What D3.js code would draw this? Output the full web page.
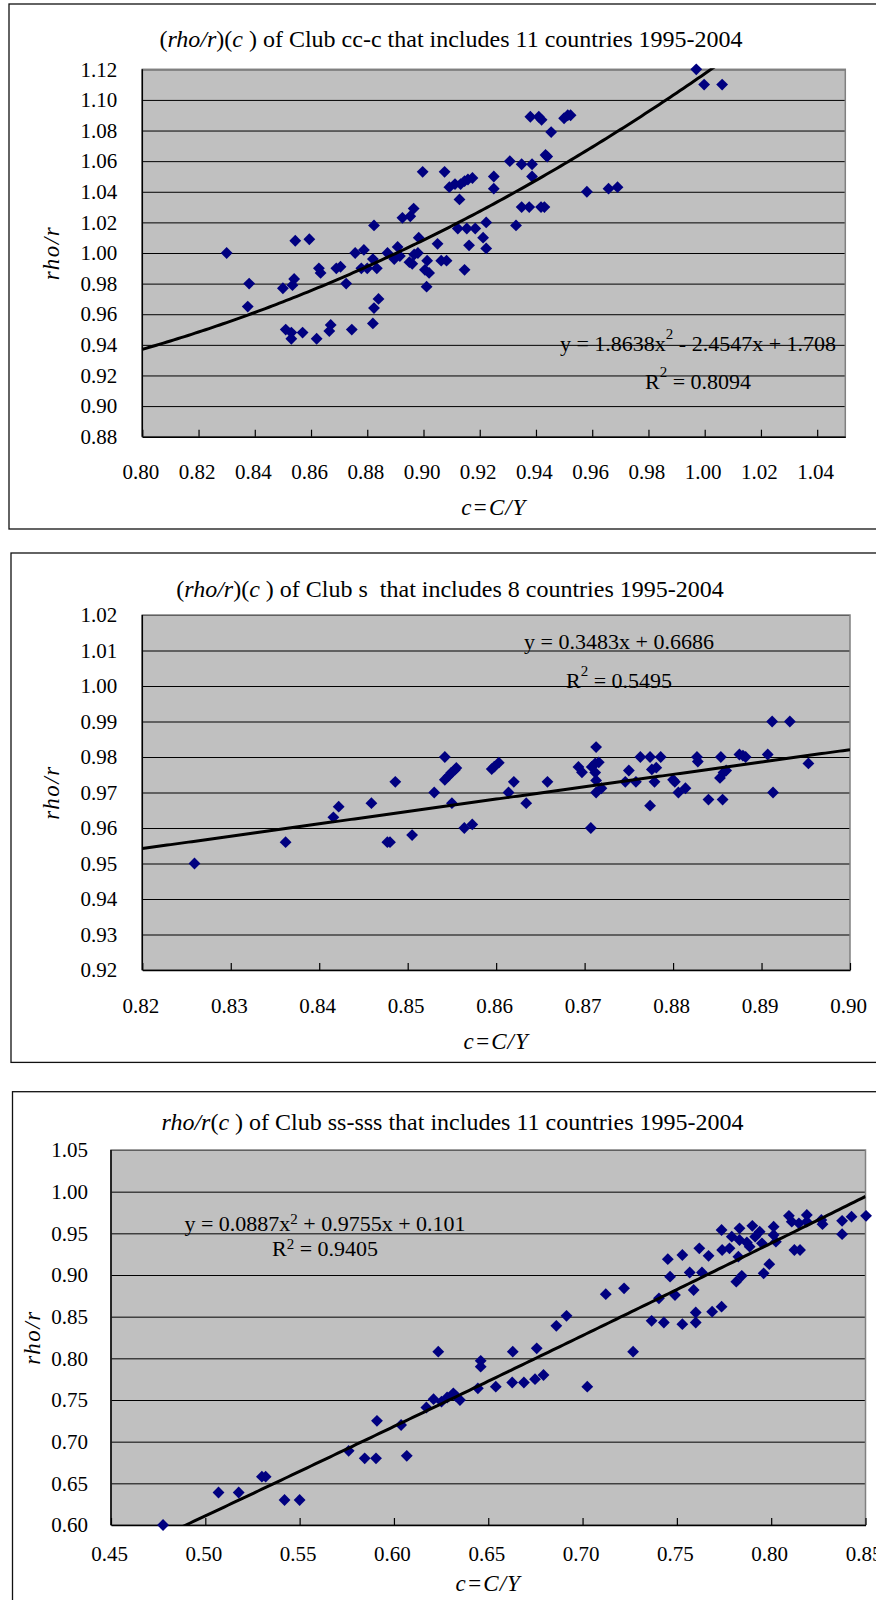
<!DOCTYPE html>
<html>
<head>
<meta charset="utf-8">
<script src="https://cdn.jsdelivr.net/npm/d3@7"></script>
<style>
body { margin: 0; background: #fff; }
svg, svg text { font-family: 'Liberation Serif', 'Times New Roman', serif; }
svg { display: block; }
text { white-space: pre; }
</style>
</head>
<body>
<svg width="876" height="1600"></svg>
<script>
// Club cc-c, 11 countries 1995-2004
var ccX = [
    0.830, 0.838, 0.8375, 0.850, 0.8544, 0.8594, 0.854, 0.8534, 0.851, 0.853,
    0.853, 0.857, 0.862, 0.8628, 0.8634, 0.867, 0.8665, 0.869, 0.8705, 0.8725,
    0.8745, 0.8757, 0.8788, 0.8779, 0.880, 0.8824, 0.882, 0.8834, 0.8824, 0.884,
    0.882, 0.8872, 0.8896, 0.8908, 0.8916, 0.8925, 0.8953, 0.8965, 0.895, 0.896,
    0.8967, 0.898, 0.8983, 0.8997, 0.9005, 0.9013, 0.902, 0.9011, 0.905, 0.9063,
    0.9075, 0.9082, 0.9092, 0.9112, 0.9128, 0.9132, 0.9146, 0.9158, 0.9174, 0.9122,
    0.9154, 0.9184, 0.9162, 0.9146, 0.9212, 0.9223, 0.9223, 0.925, 0.925, 0.9307,
    0.9329, 0.9349, 0.9386, 0.9386, 0.9349, 0.9376, 0.938, 0.941, 0.942, 0.9418,
    0.943, 0.9434, 0.944, 0.9454, 0.950, 0.9513, 0.9523, 0.9581, 0.9658, 0.969,
    0.997, 0.9998, 1.0062
]
var ccY = [
    1.000, 0.980, 0.965, 0.977, 1.008, 1.009, 0.983, 0.979, 0.950, 0.944,
    0.948, 0.948, 0.944, 0.990, 0.987, 0.953, 0.949, 0.990, 0.991, 0.980,
    0.950, 1.000, 1.002, 0.990, 0.990, 1.018, 0.996, 0.990, 0.964, 0.970,
    0.954, 1.000, 0.996, 1.004, 0.998, 1.023, 1.024, 1.029, 0.994, 0.993,
    0.999, 1.000, 1.010, 1.053, 0.989, 0.995, 0.987, 0.978, 1.006, 0.995,
    1.053, 0.995, 1.043, 1.045, 1.035, 1.045, 1.047, 1.048, 1.049, 1.016,
    1.016, 1.016, 1.005, 0.989, 1.010, 1.020, 1.003, 1.050, 1.042, 1.060,
    1.018, 1.058, 1.058, 1.050, 1.030, 1.030, 1.089, 1.089, 1.087, 1.030,
    1.030, 1.064, 1.063, 1.079, 1.088, 1.090, 1.090, 1.040, 1.042, 1.043,
    1.120, 1.110, 1.110
]
var ccTrend = [1.8638, -2.4547, 1.708]
var ccXTicks = [0.80, 0.82, 0.84, 0.86, 0.88, 0.90, 0.92, 0.94, 0.96, 0.98, 1.00, 1.02, 1.04]
var ccYTicks = [0.88, 0.90, 0.92, 0.94, 0.96, 0.98, 1.00, 1.02, 1.04, 1.06, 1.08, 1.10, 1.12]

// Club s, 8 countries 1995-2004
var sX = [
    0.8259, 0.8362, 0.8416, 0.8422, 0.8459, 0.8477, 0.848, 0.8486, 0.8505, 0.853,
    0.8542, 0.8542, 0.8546, 0.8549, 0.8553, 0.8555, 0.855, 0.8564, 0.8573, 0.8595,
    0.8598, 0.8603, 0.8614, 0.862, 0.8634, 0.8658, 0.8693, 0.8697, 0.8708, 0.8712,
    0.8713, 0.8716, 0.8712, 0.8713, 0.8713, 0.8719, 0.8707, 0.8746, 0.875, 0.8758,
    0.8763, 0.8774, 0.8776, 0.8781, 0.8779, 0.8774, 0.8786, 0.880, 0.8802, 0.8806,
    0.8814, 0.8827, 0.8828, 0.884, 0.8854, 0.8853, 0.8857, 0.886, 0.8856, 0.8875,
    0.8879, 0.8882, 0.8907, 0.8912, 0.8932, 0.8913, 0.8953
]
var sY = [
    0.950, 0.956, 0.963, 0.966, 0.967, 0.956, 0.956, 0.973, 0.958, 0.970,
    0.980, 0.9736, 0.9746, 0.9755, 0.9763, 0.9769, 0.967, 0.960, 0.961, 0.9766,
    0.9773, 0.9784, 0.970, 0.973, 0.967, 0.973, 0.9772, 0.9757, 0.9772, 0.9782,
    0.9828, 0.9785, 0.9756, 0.9734, 0.970, 0.9712, 0.960, 0.973, 0.9762, 0.973,
    0.980, 0.980, 0.9765, 0.977, 0.973, 0.9663, 0.980, 0.9736, 0.973, 0.970,
    0.9712, 0.980, 0.9787, 0.968, 0.980, 0.9741, 0.9756, 0.9762, 0.968, 0.9807,
    0.9804, 0.980, 0.9807, 0.990, 0.990, 0.970, 0.9782
]
var sTrend = [0, 0.3483, 0.6686]
var sXTicks = [0.82, 0.83, 0.84, 0.85, 0.86, 0.87, 0.88, 0.89, 0.90]
var sYTicks = [0.92, 0.93, 0.94, 0.95, 0.96, 0.97, 0.98, 0.99, 1.00, 1.01, 1.02]

// Club ss-sss, 11 countries 1995-2004
var ssX = [
    0.4776, 0.507, 0.5177, 0.530, 0.532, 0.542, 0.550, 0.576, 0.5845, 0.5905,
    0.591, 0.6038, 0.6068, 0.6172, 0.621, 0.6235, 0.6252, 0.6282, 0.6315, 0.6327,
    0.635, 0.6445, 0.646, 0.646, 0.654, 0.663, 0.6627, 0.6689, 0.6748, 0.6757,
    0.6793, 0.6861, 0.6915, 0.7025, 0.7123, 0.722, 0.7268, 0.7366, 0.7405, 0.7431,
    0.7452, 0.7464, 0.749, 0.7529, 0.7529, 0.7568, 0.7589, 0.760, 0.760, 0.7619,
    0.7633, 0.7668, 0.7687, 0.7737, 0.7737, 0.774, 0.7779, 0.7791, 0.7815, 0.7826,
    0.7832, 0.7844, 0.7832, 0.7871, 0.7886, 0.790, 0.7915, 0.7939, 0.7951, 0.796,
    0.799, 0.8013, 0.8013, 0.8025, 0.8094, 0.8109, 0.8123, 0.8153, 0.8147, 0.8189,
    0.8189, 0.8266, 0.8272, 0.8376, 0.8376, 0.8426, 0.8503
]
var ssY = [
    0.600, 0.639, 0.639, 0.658, 0.658, 0.630, 0.630, 0.689, 0.680, 0.680,
    0.725, 0.720, 0.683, 0.741, 0.751, 0.808, 0.748, 0.753, 0.758, 0.755,
    0.750, 0.764, 0.797, 0.790, 0.766, 0.808, 0.771, 0.771, 0.775, 0.812,
    0.780, 0.839, 0.851, 0.766, 0.877, 0.884, 0.808, 0.845, 0.872, 0.843,
    0.919, 0.898, 0.876, 0.924, 0.841, 0.903, 0.882, 0.855, 0.843, 0.932,
    0.903, 0.923, 0.856, 0.954, 0.862, 0.930, 0.932, 0.946, 0.892, 0.922,
    0.942, 0.899, 0.956, 0.939, 0.934, 0.959, 0.946, 0.952, 0.938, 0.902,
    0.913, 0.958, 0.948, 0.940, 0.971, 0.964, 0.930, 0.930, 0.962, 0.972,
    0.964, 0.966, 0.961, 0.965, 0.949, 0.970, 0.971
]
var ssTrend = [0.0887, 0.9755, 0.101]
var ssXTicks = [0.45, 0.50, 0.55, 0.60, 0.65, 0.70, 0.75, 0.80, 0.85]
var ssYTicks = [0.60, 0.65, 0.70, 0.75, 0.80, 0.85, 0.90, 0.95, 1.00, 1.05]

var svg = d3.select('svg')
var fmt = d3.format('.2f')
var serif = "'Liberation Serif', 'Times New Roman', serif"

function addRuns (sel, runs) {
    // runs: [text, style, size, shift] with style '' | 'i' | 'sup' | 'back'
    runs.forEach(function(r){
        var t = sel.append('tspan').text(r[0])
        if (r[1] === 'i') t.attr('font-style', 'italic')
        if (r[1] === 'sup') t.attr('font-size', r[2]).attr('dy', -r[3])
        if (r[1] === 'back') t.attr('dy', r[3])
    })
}

function drawPanel (p) {
    var g = svg.append('g')
    var pl = p.plot

    g.append('rect')
        .attr('x', p.frame[0])
        .attr('y', p.frame[1])
        .attr('width', p.frame[2])
        .attr('height', p.frame[3])
        .attr('fill', 'none')
        .attr('stroke', '#111')
        .attr('stroke-width', 1.3)

    var x = d3.scaleLinear().domain(p.xDomain).range([pl.l, pl.r])
    var y = d3.scaleLinear().domain(p.yDomain).range([pl.b, pl.t])

    g.append('rect')
        .attr('x', pl.l)
        .attr('y', pl.t)
        .attr('width', pl.r - pl.l)
        .attr('height', pl.b - pl.t)
        .attr('fill', '#c0c0c0')

    // gridlines + y labels
    var ya = g.append('g')
        .attr('transform', 'translate(' + pl.l + ',0)')
        .call(d3.axisLeft(y)
            .tickValues(p.yTicks)
            .tickSizeInner(-(pl.r - pl.l))
            .tickSizeOuter(0)
            .tickPadding(p.yPad)
            .tickFormat(fmt))
    ya.attr('font-family', serif).attr('font-size', 21)
    ya.select('.domain').remove()
    ya.selectAll('line').attr('stroke', '#000').attr('stroke-width', 1)
    ya.selectAll('text')
        .attr('fill', '#000')
        .style('font-family', serif)
        .style('font-size', '21px')

    g.append('rect')
        .attr('x', pl.l)
        .attr('y', pl.t)
        .attr('width', pl.r - pl.l)
        .attr('height', pl.b - pl.t)
        .attr('fill', 'none')
        .attr('stroke', '#808080')
        .attr('stroke-width', 1.5)

    g.append('line')
        .attr('x1', pl.l).attr('x2', pl.l)
        .attr('y1', pl.t).attr('y2', pl.b)
        .attr('stroke', '#000')
        .attr('stroke-width', 1.5)

    var xa = g.append('g')
        .attr('transform', 'translate(0,' + pl.b + ')')
        .call(d3.axisBottom(x)
            .tickValues(p.xTicks)
            .tickSizeInner(-7)
            .tickSizeOuter(0)
            .tickPadding(p.xPad)
            .tickFormat(fmt))
    xa.attr('font-family', serif).attr('font-size', 21)
    xa.select('.domain').attr('stroke', '#000').attr('stroke-width', 1.5)
    xa.selectAll('line').attr('stroke', '#000').attr('stroke-width', 1.2)
    xa.selectAll('text')
        .attr('fill', '#000')
        .attr('dx', -2)
        .style('font-family', serif)
        .style('font-size', '21px')

    // points
    var pts = p.xs.map(function(d, i){ return {x: d, y: p.ys[i]} })
    g.selectAll('path.pt')
        .data(pts)
        .enter()
        .append('path')
        .attr('class', 'pt')
        .attr('d', d3.symbol().type(d3.symbolSquare).size(70))
        .attr('transform', function(d, i){
            return 'translate(' + x(d.x) + ',' + y(d.y) + ') rotate(45)'
        })
        .attr('fill', '#000080')

    // trendline
    var clipId = 'clip' + p.id
    g.append('clipPath')
        .attr('id', clipId)
        .append('rect')
        .attr('x', pl.l)
        .attr('y', pl.t - 1)
        .attr('width', pl.r - pl.l)
        .attr('height', pl.b - pl.t + 1)
    var c = p.trend
    var xs = d3.range(p.xDomain[0], p.xDomain[1] + 1e-9, (p.xDomain[1] - p.xDomain[0]) / 200)
    g.append('path')
        .datum(xs)
        .attr('clip-path', 'url(#' + clipId + ')')
        .attr('fill', 'none')
        .attr('stroke', '#000')
        .attr('stroke-width', 3)
        .attr('d', d3.line()
            .x(function(d){ return x(d) })
            .y(function(d){ return y(c[0] * d * d + c[1] * d + c[2]) }))

    // title
    var t = g.append('text')
        .attr('x', p.titlePos[0])
        .attr('y', p.titlePos[1])
        .attr('text-anchor', 'middle')
        .attr('font-size', 24)
    addRuns(t, p.title)

    // equation + R2
    p.eq.forEach(function(line){
        var e = g.append('text')
            .attr('x', p.eqX)
            .attr('y', line.y)
            .attr('text-anchor', 'middle')
            .attr('font-size', 22)
        addRuns(e, line.runs)
    })

    // axis titles
    g.append('text')
        .attr('x', (pl.l + pl.r) / 2)
        .attr('y', p.xTitleY)
        .attr('text-anchor', 'middle')
        .attr('font-size', 23)
        .attr('font-style', 'italic')
        .attr('letter-spacing', 1)
        .text('c=C/Y')

    g.append('text')
        .attr('transform', 'translate(' + p.yTitleX + ',' + (pl.t + pl.b) / 2 + ') rotate(-90)')
        .attr('text-anchor', 'middle')
        .attr('dy', '0.3em')
        .attr('font-size', 23)
        .attr('font-style', 'italic')
        .attr('letter-spacing', 1.5)
        .text('rho/r')
}

drawPanel({
    id: 1,
    frame: [9, 4, 900, 525],
    plot: {l: 142.3, t: 69.3, r: 845.3, b: 436.7},
    xDomain: [0.80, 1.05],
    yDomain: [0.88, 1.12],
    xTicks: ccXTicks,
    yTicks: ccYTicks,
    xs: ccX,
    ys: ccY,
    trend: ccTrend,
    yPad: 25,
    xPad: 27,
    titlePos: [451, 47],
    title: [['(', ''], ['rho/r', 'i'], [')(', ''], ['c', 'i'], [' ) of Club cc-c that includes 11 countries 1995-2004', '']],
    eqX: 698,
    eq: [
        {y: 351, runs: [['y = 1.8638x', ''], ['2', 'sup', 15, 12], [' - 2.4547x + 1.708', 'back', 22, 12]]},
        {y: 389, runs: [['R', ''], ['2', 'sup', 15, 12], [' = 0.8094', 'back', 22, 12]]}
    ],
    xTitleY: 515,
    yTitleX: 52
})

drawPanel({
    id: 2,
    frame: [11, 553, 900, 509.4],
    plot: {l: 142.3, t: 615, r: 850, b: 970},
    xDomain: [0.82, 0.90],
    yDomain: [0.92, 1.02],
    xTicks: sXTicks,
    yTicks: sYTicks,
    xs: sX,
    ys: sY,
    trend: sTrend,
    yPad: 25,
    xPad: 28.5,
    titlePos: [450, 597],
    title: [['(', ''], ['rho/r', 'i'], [')(', ''], ['c', 'i'], [' ) of Club s  that includes 8 countries 1995-2004', '']],
    eqX: 619,
    eq: [
        {y: 648.5, runs: [['y = 0.3483x + 0.6686', '']]},
        {y: 687.5, runs: [['R', ''], ['2', 'sup', 15, 12], [' = 0.5495', 'back', 22, 12]]}
    ],
    xTitleY: 1049,
    yTitleX: 52
})

drawPanel({
    id: 3,
    frame: [12.5, 1091.7, 900, 600],
    plot: {l: 111, t: 1150, r: 865.5, b: 1525},
    xDomain: [0.45, 0.85],
    yDomain: [0.60, 1.05],
    xTicks: ssXTicks,
    yTicks: ssYTicks,
    xs: ssX,
    ys: ssY,
    trend: ssTrend,
    yPad: 23,
    xPad: 21.5,
    titlePos: [452.5, 1130],
    title: [['rho/r', 'i'], ['(', ''], ['c', 'i'], [' ) of Club ss-sss that includes 11 countries 1995-2004', '']],
    eqX: 325,
    eq: [
        {y: 1231, runs: [['y = 0.0887x', ''], ['2', 'sup', 15, 7], [' + 0.9755x + 0.101', 'back', 22, 7]]},
        {y: 1256, runs: [['R', ''], ['2', 'sup', 15, 7], [' = 0.9405', 'back', 22, 7]]}
    ],
    xTitleY: 1591,
    yTitleX: 33.5
})
</script>
</body>
</html>
